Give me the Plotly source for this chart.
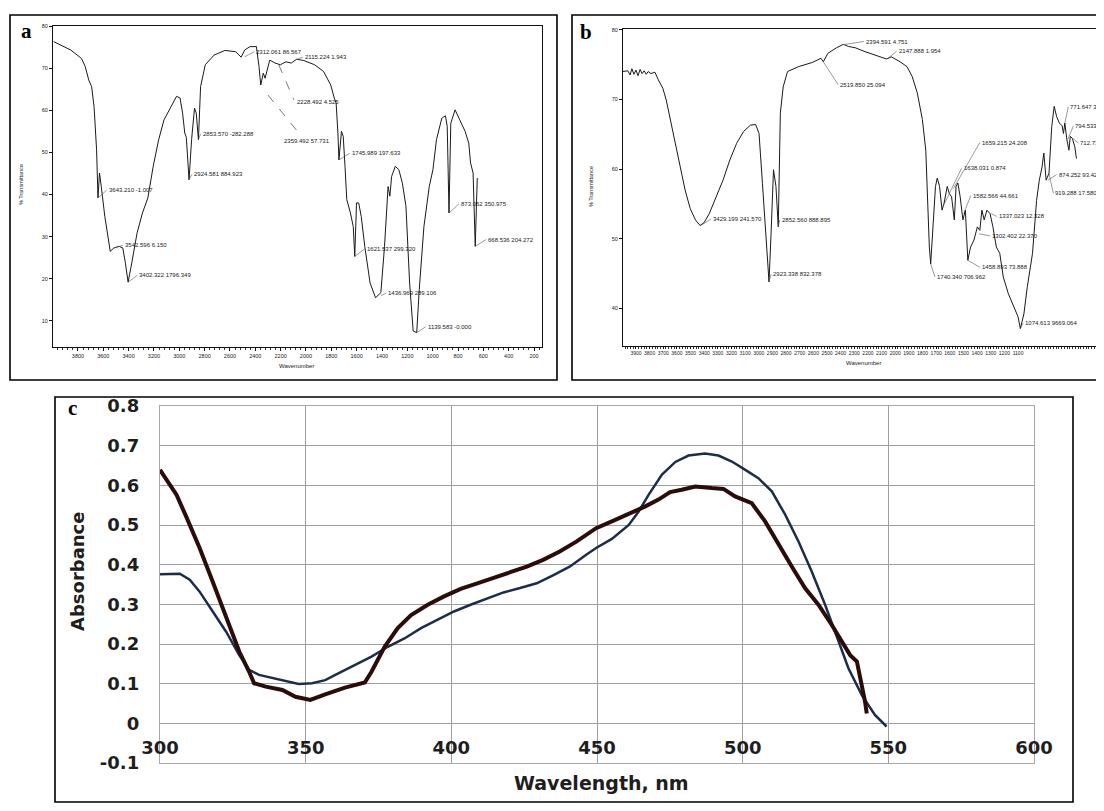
import plotly.graph_objects as go

# the page body keeps an 8px margin, so the figure is drawn 8px in from the corner
OFF = 8
W, H = 1104 - OFF, 811 - OFF

# ---- panel a: FTIR spectrum (wavenumber, % transmittance)
wn_a = [3992, 3857, 3772, 3743, 3715, 3692, 3673, 3653, 3642, 3630,
        3616, 3588, 3545, 3517, 3475, 3446, 3426, 3404, 3375, 3333,
        3291, 3248, 3206, 3163, 3121, 3064, 3022, 2994, 2974, 2957,
        2945, 2923, 2903, 2880, 2866, 2849, 2832, 2795, 2725, 2640,
        2555, 2512, 2484, 2442, 2391, 2371, 2357, 2337, 2323, 2286,
        2244, 2202, 2159, 2116, 2074, 2017, 1932, 1861, 1805, 1777,
        1762, 1748, 1740, 1720, 1706, 1692, 1678, 1649, 1627, 1615,
        1601, 1584, 1564, 1536, 1494, 1451, 1409, 1380, 1352, 1338,
        1324, 1295, 1267, 1239, 1211, 1182, 1154, 1126, 1106, 1069,
        1027, 998, 970, 928, 899, 885, 871, 857, 843, 823,
        786, 744, 715, 701, 681, 664, 648]
trans_a = [76.3, 74.3, 72.3, 70.4, 67.2, 65.6, 60.9, 50.6, 39.2, 45.1,
           41.9, 34.8, 26.5, 27.3, 27.7, 27.3, 23.8, 19.2, 23.8, 30.9,
           35.6, 39.2, 46.7, 53.0, 57.7, 60.9, 63.3, 62.9, 59.3, 54.6,
           53.6, 43.5, 53.0, 60.5, 59.3, 53.0, 65.6, 70.8, 73.1, 74.2,
           73.9, 72.6, 74.3, 75.1, 75.1, 70.4, 66.0, 68.8, 67.6, 71.9,
           71.2, 70.8, 71.5, 71.2, 72.1, 71.8, 70.8, 69.2, 66.0, 62.9,
           61.7, 54.6, 48.2, 55.0, 53.8, 46.7, 38.8, 35.6, 32.4, 25.3,
           38.0, 38.0, 34.8, 27.7, 19.0, 15.5, 16.7, 27.7, 41.9, 39.6,
           44.3, 46.7, 45.9, 42.7, 37.2, 19.0, 7.6, 7.2, 17.4, 32.4,
           41.9, 45.9, 53.0, 58.1, 58.7, 56.1, 35.6, 56.9, 58.1, 60.1,
           57.7, 55.0, 52.2, 47.5, 45.1, 27.7, 43.9]
ticks_a = [3800, 3600, 3400, 3200, 3000, 2800, 2600, 2400, 2200, 2000,
           1800, 1600, 1400, 1200, 1000, 800, 600, 400, 200]

labels_a = ["3643.210 -1.007", "3542.596 6.150", "3402.322 1796.349",
            "2924.581 884.923", "2853.570 -282.288", "2312.061 86.567",
            "2115.224 1.943", "1745.989 197.633", "1621.537 299.320",
            "1436.969 289.106", "1139.583 -0.000", "873.062 350.975",
            "668.536 204.272"]
peak_a_x = [3642, 3517, 3404, 2923, 2849, 2484, 2074, 1740, 1615, 1409, 1126, 871, 664]
peak_a_y = [39.2, 27.3, 19.2, 43.5, 53.0, 72.7, 72.1, 48.2, 25.3, 16.0, 7.2, 35.6, 27.7]
lab_a_x = [3574, 3446, 3333, 2900, 2832, 2408, 2023, 1655, 1536, 1366, 1055, 792, 579]
lab_a_y = [41.0, 27.9, 20.8, 44.8, 54.4, 73.9, 72.6, 49.8, 27.1, 16.6, 8.6, 37.8, 29.3]
# labels with dashed leaders
dash_labels_a = ["2228.492 4.525", "2359.492 57.731"]
dash_from_x = [2215, 2300]
dash_from_y = [70.8, 63.6]
dash_to_x = [2096, 2051]
dash_to_y = [62.5, 54.4]
dash_lab_x = [2088, 2187]
dash_lab_y = [61.9, 52.7]

# ---- panel b: FTIR spectrum
wn_b = [3998, 3960, 3943, 3930, 3915, 3900, 3885, 3870, 3855, 3840,
        3825, 3810, 3790, 3761, 3736, 3703, 3678, 3653, 3615, 3577,
        3540, 3502, 3464, 3431, 3401, 3363, 3313, 3262, 3212, 3162,
        3111, 3061, 3023, 2998, 2973, 2947, 2925, 2910, 2892, 2874,
        2857, 2842, 2821, 2789, 2708, 2607, 2544, 2527, 2494, 2431,
        2380, 2343, 2292, 2229, 2154, 2065, 2028, 1965, 1914, 1876,
        1838, 1801, 1776, 1763, 1750, 1740, 1725, 1705, 1692, 1675,
        1657, 1642, 1619, 1604, 1587, 1567, 1554, 1541, 1524, 1504,
        1486, 1468, 1448, 1423, 1398, 1380, 1365, 1348, 1328, 1305,
        1284, 1259, 1234, 1208, 1171, 1133, 1100, 1083, 1057, 1032,
        994, 964, 944, 924, 911, 894, 873, 853, 835, 817,
        797, 777, 767, 757, 742, 727, 717, 702, 684, 672]
trans_b = [74.0, 74.1, 73.5, 74.4, 73.6, 74.2, 73.4, 74.3, 73.7, 74.1,
           73.6, 74.0, 73.7, 73.9, 72.8, 71.6, 69.9, 67.5, 64.2, 60.3,
           57.0, 54.3, 52.7, 51.9, 52.3, 53.6, 56.0, 58.4, 61.3, 63.7,
           65.4, 66.3, 66.4, 65.1, 57.9, 49.8, 43.8, 50.7, 59.9, 57.5,
           51.7, 68.0, 71.8, 74.0, 74.7, 75.3, 75.9, 75.4, 76.6, 77.4,
           77.9, 77.6, 77.4, 76.9, 76.4, 75.8, 76.1, 75.4, 74.7, 73.3,
           70.9, 67.1, 62.7, 55.5, 48.8, 46.4, 50.7, 57.5, 58.7, 57.5,
           54.1, 55.1, 57.5, 56.5, 56.0, 52.7, 57.5, 58.0, 56.0, 52.7,
           54.1, 46.9, 48.8, 49.8, 51.7, 51.2, 54.1, 52.7, 54.1, 53.6,
           51.7, 48.8, 47.9, 44.5, 42.1, 40.2, 38.8, 37.1, 39.2, 43.1,
           47.9, 55.5, 58.4, 60.3, 62.3, 58.4, 59.4, 66.1, 69.0, 67.5,
           66.6, 66.2, 65.1, 66.6, 64.2, 62.7, 64.7, 64.4, 63.2, 61.5]
ticks_b = list(range(3900, 1099, -100))

labels_b = ["2394.591 4.751", "2147.888 1.954", "2519.850 25.094",
            "3429.199 241.570", "2852.560 888.895", "2923.338 832.378",
            "1740.340 706.962", "1659.215 24.208", "1638.031 0.874",
            "1582.566 44.661", "1337.023 12.328", "1302.402 22.370",
            "1458.893 73.888", "1074.613 9669.064", "874.252 93.427",
            "919.288 17.580", "771.647 33.8", "794.533 10.3", "712.730 3"]
peak_b_x = [2368, 2053, 2527, 3426, 2857, 2925, 1740, 1574, 1650, 1498,
            1297, 1385, 1468, 1083, 881, 874, 757, 737, 697]
peak_b_y = [77.9, 75.9, 75.4, 51.9, 51.7, 43.8, 46.4, 57.2, 54.6, 53.6,
            53.6, 50.7, 46.9, 37.1, 58.4, 59.4, 66.6, 64.2, 64.4]
lab_b_x = [2229, 1990, 2418, 3351, 2847, 2910, 1709, 1380, 1514, 1446,
           1257, 1304, 1380, 1063, 818, 841, 732, 694, 657]
lab_b_y = [78.3, 76.9, 72.1, 52.8, 52.7, 44.9, 44.5, 63.8, 60.1, 56.2,
           53.2, 50.4, 45.9, 37.9, 59.2, 56.5, 68.9, 66.2, 63.7]

# ---- panel c: UV-Vis absorbance
wl_black = [300, 303.4, 305.7, 309, 313.6, 318.1, 322.7, 327.2, 330.6, 332.3,
            336.3, 342, 346.5, 351.6, 356.7, 363.5, 370.3, 372.6, 377.1, 381.6,
            386.2, 391.9, 397.5, 403.2, 408.9, 414.5, 420.2, 425.9, 431.5, 437.2,
            442.9, 449.7, 455.1, 460.9, 466.6, 471.1, 475.1, 479.1, 483.7, 489.4,
            493.4, 497.4, 503.1, 507.7, 512.3, 516.9, 521.4, 526, 530.6, 534,
            536.9, 539.2, 540.9, 542, 542.6]
abs_black = [0.639, 0.601, 0.576, 0.521, 0.442, 0.357, 0.265, 0.181, 0.130, 0.101,
             0.0925, 0.084, 0.067, 0.059, 0.073, 0.09, 0.103, 0.130, 0.193, 0.240,
             0.273, 0.299, 0.320, 0.339, 0.353, 0.366, 0.380, 0.395, 0.412, 0.433,
             0.458, 0.492, 0.509, 0.527, 0.547, 0.564, 0.583, 0.589, 0.597, 0.593,
             0.591, 0.572, 0.555, 0.509, 0.450, 0.395, 0.341, 0.299, 0.248, 0.206,
             0.172, 0.156, 0.097, 0.055, 0.025]
wl_blue = [300, 303.4, 306.8, 310.2, 313.6, 318.1, 322.7, 327.2, 330.6, 334,
           338.6, 343.1, 347.6, 352.2, 356.7, 361.2, 366.9, 372.6, 378.2, 383.9,
           389.6, 395.3, 400.9, 406.6, 412.3, 417.9, 423.6, 429.3, 434.9, 440.6,
           446.3, 449.7, 455.1, 460.9, 464.3, 467.7, 472.3, 476.9, 481.4, 487.1,
           491.7, 496.3, 500.9, 505.4, 510, 514.6, 519.2, 523.7, 528.3, 532.9,
           536.3, 540.9, 545.4, 549.4]
abs_blue = [0.376, 0.376, 0.377, 0.362, 0.332, 0.282, 0.231, 0.172, 0.135, 0.122,
            0.114, 0.105, 0.099, 0.101, 0.109, 0.126, 0.147, 0.168, 0.193, 0.214,
            0.240, 0.261, 0.282, 0.299, 0.315, 0.330, 0.341, 0.353, 0.373, 0.395,
            0.425, 0.442, 0.465, 0.500, 0.534, 0.576, 0.627, 0.659, 0.675, 0.680,
            0.675, 0.660, 0.639, 0.618, 0.585, 0.526, 0.458, 0.383, 0.299, 0.206,
            0.139, 0.071, 0.021, -0.008]
ticks_c_x = [300, 350, 400, 450, 500, 550, 600]
ticks_c_y = [-0.1, 0, 0.1, 0.2, 0.3, 0.4, 0.5, 0.6, 0.7, 0.8]
ticktext_c_y = ["-0.1", "0", "0.1", "0.2", "0.3", "0.4", "0.5", "0.6", "0.7", "0.8"]


# screen pixel -> paper fraction
def px(x):
    return min(1.0, (x - OFF) / W)


def py(y):
    return 1 - (y - OFF) / H


small = dict(family="Liberation Sans, Arial, sans-serif", size=5.5, color="#1a1a1a")
note = dict(family="Liberation Sans, Arial, sans-serif", size=6, color="#1a1a1a")
bold_c = dict(family="DejaVu Sans, Verdana, sans-serif", size=18, color="#1e1e1e", weight="bold")

fig = go.Figure()
fig.add_trace(go.Scatter(x=wn_a, y=trans_a, xaxis="x", yaxis="y", mode="lines",
                         line=dict(color="#1a1a1a", width=1)))
fig.add_trace(go.Scatter(x=wn_b, y=trans_b, xaxis="x2", yaxis="y2", mode="lines",
                         line=dict(color="#1a1a1a", width=1)))
fig.add_trace(go.Scatter(x=wl_blue, y=abs_blue, xaxis="x3", yaxis="y3", mode="lines",
                         line=dict(color="#1d2c4c", width=2.5)))
fig.add_trace(go.Scatter(x=wl_black, y=abs_black, xaxis="x3", yaxis="y3", mode="lines",
                         line=dict(color="#2a0c0a", width=4)))

frame = dict(showline=True, mirror=True, linecolor="#111", linewidth=1,
             showgrid=False, zeroline=False, automargin=False)

annotations = []
shapes = []

# outer boxes
for x0, y0, x1, y1 in [(10, 15, 557, 380), (572, 15, 1103, 380), (55, 397, 1073, 802)]:
    shapes.append(dict(type="rect", xref="paper", yref="paper",
                       x0=px(x0), x1=px(x1), y0=py(y1), y1=py(y0),
                       line=dict(color="#000", width=1.6)))

# panel letters
for t, x, y in [("a", 26, 31), ("b", 586, 32), ("c", 72, 408)]:
    annotations.append(dict(text=t, x=px(x), y=py(y), xref="paper", yref="paper",
                            showarrow=False, xanchor="center", yanchor="middle",
                            font=dict(family="Liberation Serif, Times New Roman, serif",
                                      size=21, color="#000", weight="bold")))

# peak labels a
for t, x, y, lx, ly in zip(labels_a, peak_a_x, peak_a_y, lab_a_x, lab_a_y):
    annotations.append(dict(text=t, x=x, y=y, ax=lx, ay=ly, xref="x", yref="y",
                            axref="x", ayref="y", showarrow=True, arrowhead=0,
                            arrowwidth=0.6, arrowcolor="#555", standoff=0,
                            xanchor="left", yanchor="middle", font=note))
for t, x0, y0, x1, y1, lx, ly in zip(dash_labels_a, dash_from_x, dash_from_y,
                                     dash_to_x, dash_to_y, dash_lab_x, dash_lab_y):
    shapes.append(dict(type="line", xref="x", yref="y", x0=x0, y0=y0, x1=x1, y1=y1,
                       line=dict(color="#555", width=0.8, dash="dash")))
    annotations.append(dict(text=t, x=lx, y=ly, xref="x", yref="y", showarrow=False,
                            xanchor="left", yanchor="middle", font=note))

# peak labels b
for t, x, y, lx, ly in zip(labels_b, peak_b_x, peak_b_y, lab_b_x, lab_b_y):
    annotations.append(dict(text=t, x=x, y=y, ax=lx, ay=ly, xref="x2", yref="y2",
                            axref="x2", ayref="y2", showarrow=True, arrowhead=0,
                            arrowwidth=0.6, arrowcolor="#555", standoff=0,
                            xanchor="left", yanchor="middle", font=note))

# axis titles
titles = [("% Transmittance", 21, 185, -90, small),
          ("Wavenumber", 296, 366, 0, note),
          ("% Transmittance", 591, 187, -90, small),
          ("Wavenumber", 863, 363, 0, note),
          ("Absorbance", 77, 571, -90, bold_c),
          ("Wavelength, nm", 601, 783, 0, dict(bold_c, size=19))]
for t, x, y, ang, f in titles:
    annotations.append(dict(text=t, x=px(x), y=py(y), xref="paper", yref="paper",
                            showarrow=False, textangle=ang, xanchor="center",
                            yanchor="middle", font=f))

fig.update_layout(
    width=W, height=H,
    margin=dict(l=0, r=0, t=0, b=0, autoexpand=False),
    paper_bgcolor="white", plot_bgcolor="white",
    showlegend=False,
    xaxis=dict(frame, domain=[px(53), px(542)], range=[3997, 137], anchor="y",
               tickvals=ticks_a, ticks="outside", ticklen=3, tickcolor="#111",
               tickfont=small,
               minor=dict(ticks="outside", ticklen=1.5, dtick=40, tickcolor="#333")),
    yaxis=dict(frame, domain=[py(347), py(26)], range=[3.8, 80], anchor="x",
               tickvals=[10, 20, 30, 40, 50, 60, 70, 80], ticks="outside", ticklen=3,
               tickcolor="#111", tickfont=small),
    xaxis2=dict(frame, domain=[px(623), 1.0], range=[3995, 470], anchor="y2",
                tickvals=ticks_b, ticks="outside", ticklen=2, tickcolor="#111",
                tickfont=dict(small, size=5), tickangle=0,
                minor=dict(ticks="outside", ticklen=1.5, dtick=20, tickcolor="#333")),
    yaxis2=dict(frame, domain=[py(346), py(29)], range=[34.6, 80.1], anchor="x2",
                tickvals=[40, 50, 60, 70, 80], ticks="outside", ticklen=3,
                tickcolor="#111", tickfont=small),
    # x labels sit just under the zero line, as in the reference
    xaxis3=dict(domain=[px(160), px(1034)], range=[300, 600], anchor="y3",
                tickvals=ticks_c_x, ticks="", ticklabelstandoff=-32,
                tickfont=bold_c, automargin=False,
                showgrid=True, gridcolor="#9e9e9e", gridwidth=1.4,
                showline=True, mirror=True, linecolor="#a8a8a8", linewidth=1.4,
                zeroline=False),
    yaxis3=dict(domain=[py(763), py(406)], range=[-0.1, 0.8], anchor="x3",
                tickvals=ticks_c_y, ticktext=ticktext_c_y, ticks="",
                ticklabelstandoff=16, tickfont=bold_c, automargin=False,
                showgrid=True, gridcolor="#9e9e9e", gridwidth=1.4,
                showline=True, mirror=True, linecolor="#a8a8a8", linewidth=1.4,
                zeroline=False),
    annotations=annotations,
    shapes=shapes,
)

fig.write_html("out.html")
